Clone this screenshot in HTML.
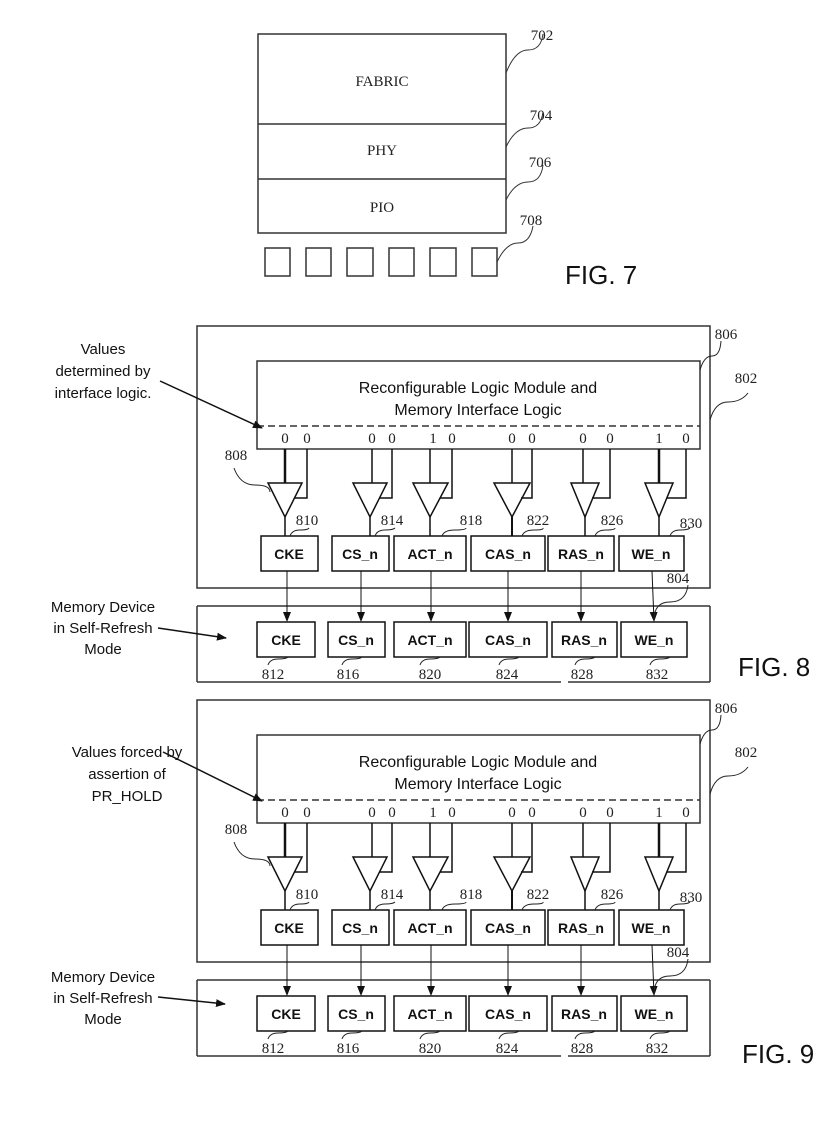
<!DOCTYPE html>
<html><head><meta charset="utf-8"><style>
html,body{margin:0;padding:0;background:#fff;}
svg{display:block;}
.t{font-family:"Liberation Serif",serif;font-size:15px;fill:#222;}
.a{font-family:"Liberation Sans",sans-serif;fill:#111;}
.b{font-family:"Liberation Sans",sans-serif;font-weight:bold;font-size:14px;fill:#111;}
</style></head><body>
<svg width="840" height="1123" viewBox="0 0 840 1123" xmlns="http://www.w3.org/2000/svg">
<defs>
<marker id="ar" markerWidth="10" markerHeight="10" refX="9" refY="5" orient="auto" markerUnits="userSpaceOnUse">
<path d="M0,1 L10,5 L0,9 z" fill="#111"/></marker>
</defs>
<!-- FIG 7 -->
<g stroke="#333" stroke-width="1.5" fill="none">
<rect x="258" y="34" width="248" height="199"/>
<line x1="258" y1="124" x2="506" y2="124"/>
<line x1="258" y1="179" x2="506" y2="179"/>
<rect x="265" y="248" width="25" height="28"/>
<rect x="306" y="248" width="25" height="28"/>
<rect x="347" y="248" width="26" height="28"/>
<rect x="389" y="248" width="25" height="28"/>
<rect x="430" y="248" width="26" height="28"/>
<rect x="472" y="248" width="25" height="28"/>
<path d="M506,73 Q515,50 528,50 T543,34" stroke-width="1"/>
<path d="M506,147 Q515,128 528,128 T543,112" stroke-width="1"/>
<path d="M506,200 Q515,182 528,182 T543,165" stroke-width="1"/>
<path d="M497,262 Q506,243 518,243 T533,226" stroke-width="1"/>
</g>
<text class="t" x="382" y="86" text-anchor="middle" font-size="17">FABRIC</text>
<text class="t" x="382" y="155" text-anchor="middle" font-size="17">PHY</text>
<text class="t" x="382" y="212" text-anchor="middle" font-size="17">PIO</text>
<text class="t" x="542" y="40" text-anchor="middle">702</text>
<text class="t" x="541" y="120" text-anchor="middle">704</text>
<text class="t" x="540" y="167" text-anchor="middle">706</text>
<text class="t" x="531" y="225" text-anchor="middle">708</text>
<text class="a" x="565" y="284" font-size="26">FIG. 7</text>

<!-- FIG 8 -->
<g id="f8">
<g stroke="#333" fill="none" stroke-width="1.5">
<rect x="197" y="326" width="513" height="262"/>
<rect x="257" y="361" width="443" height="88"/>
<line x1="257" y1="426" x2="700" y2="426" stroke-dasharray="7,4"/>
<line x1="197" y1="606" x2="710" y2="606"/>
<line x1="197" y1="606" x2="197" y2="682"/>
<line x1="710" y1="606" x2="710" y2="682"/>
<line x1="197" y1="682" x2="561" y2="682"/>
<line x1="568" y1="682" x2="710" y2="682"/>
<!-- channels -->
<g stroke="#111">
<line x1="285" y1="449" x2="285" y2="483" stroke-width="2.5"/>
<polyline points="307,449 307,498 294,498"/>
<polygon points="268,483 302,483 285,517"/>
<line x1="285" y1="517" x2="285" y2="536"/>
<rect x="261" y="536" width="57" height="35"/>
<line x1="287" y1="571" x2="287" y2="621" stroke-width="1" marker-end="url(#ar)"/>
<rect x="257" y="622" width="58" height="35"/>
<line x1="372" y1="449" x2="372" y2="483" stroke-width="1.5"/>
<polyline points="392,449 392,498 379,498"/>
<polygon points="353,483 387,483 370,517"/>
<line x1="370" y1="517" x2="370" y2="536"/>
<rect x="332" y="536" width="57" height="35"/>
<line x1="361" y1="571" x2="361" y2="621" stroke-width="1" marker-end="url(#ar)"/>
<rect x="328" y="622" width="57" height="35"/>
<line x1="430" y1="449" x2="430" y2="483" stroke-width="1.5"/>
<polyline points="452,449 452,498 440,498"/>
<polygon points="413,483 448,483 430,517"/>
<line x1="430" y1="517" x2="430" y2="536"/>
<rect x="394" y="536" width="72" height="35"/>
<line x1="431" y1="571" x2="431" y2="621" stroke-width="1" marker-end="url(#ar)"/>
<rect x="394" y="622" width="72" height="35"/>
<line x1="512" y1="449" x2="512" y2="483" stroke-width="1.5"/>
<polyline points="532,449 532,498 521,498"/>
<polygon points="494,483 530,483 512,517"/>
<line x1="512" y1="517" x2="512" y2="536" stroke-width="2"/>
<rect x="471" y="536" width="74" height="35"/>
<line x1="508" y1="571" x2="508" y2="621" stroke-width="1" marker-end="url(#ar)"/>
<rect x="469" y="622" width="78" height="35"/>
<line x1="583" y1="449" x2="583" y2="483" stroke-width="1.5"/>
<polyline points="610,449 610,498 592,498"/>
<polygon points="571,483 599,483 585,517"/>
<line x1="585" y1="517" x2="585" y2="536"/>
<rect x="548" y="536" width="66" height="35"/>
<line x1="581" y1="571" x2="581" y2="621" stroke-width="1" marker-end="url(#ar)"/>
<rect x="552" y="622" width="65" height="35"/>
<line x1="659" y1="449" x2="659" y2="483" stroke-width="2.5"/>
<polyline points="686,449 686,498 667,498"/>
<polygon points="645,483 673,483 659,517"/>
<line x1="659" y1="517" x2="659" y2="536"/>
<rect x="619" y="536" width="65" height="35"/>
<line x1="652" y1="571" x2="654" y2="621" stroke-width="1" marker-end="url(#ar)"/>
<rect x="621" y="622" width="66" height="35"/>
</g>
<g stroke-width="1" stroke="#222">
<path d="M700,370 Q704,356 712,356 T721,341"/>
<path d="M710,420 Q715,402 728,402 T748,393"/>
<path d="M234,468 Q240,485 255,485 T270,492"/>
<path d="M688,585 Q686,602 670,602 T654,620"/>
<path d="M290,536 Q292,530 300,530 T309,528"/>
<path d="M375,536 Q377,530 385,530 T395,528"/>
<path d="M442,536 Q444,530 455,530 T466,528"/>
<path d="M522,536 Q524,530 534,530 T543,528"/>
<path d="M595,536 Q597,530 606,530 T615,528"/>
<path d="M670,536 Q672,530 680,530 T690,528"/>
<path d="M268,665 Q270,659 278,659 T288,657"/>
<path d="M342,665 Q344,659 352,659 T362,657"/>
<path d="M420,665 Q422,659 430,659 T440,657"/>
<path d="M499,665 Q501,659 509,659 T519,657"/>
<path d="M575,665 Q577,659 585,659 T595,657"/>
<path d="M650,665 Q652,659 660,659 T670,657"/>
</g>
</g>
<text class="a" x="478" y="393" text-anchor="middle" font-size="16">Reconfigurable Logic Module and</text>
<text class="a" x="478" y="415" text-anchor="middle" font-size="16">Memory Interface Logic</text>
<g class="t" text-anchor="middle">
<text x="285" y="443">0</text><text x="307" y="443">0</text>
<text x="372" y="443">0</text><text x="392" y="443">0</text>
<text x="433" y="443">1</text><text x="452" y="443">0</text>
<text x="512" y="443">0</text><text x="532" y="443">0</text>
<text x="583" y="443">0</text><text x="610" y="443">0</text>
<text x="659" y="443">1</text><text x="686" y="443">0</text>
<text x="236" y="460">808</text>
<text x="307" y="525">810</text><text x="392" y="525">814</text>
<text x="471" y="525">818</text><text x="538" y="525">822</text>
<text x="612" y="525">826</text><text x="691" y="528">830</text>
<text x="678" y="583">804</text>
<text x="726" y="339">806</text>
<text x="746" y="383">802</text>
<text x="273" y="679">812</text><text x="348" y="679">816</text>
<text x="430" y="679">820</text><text x="507" y="679">824</text>
<text x="582" y="679">828</text><text x="657" y="679">832</text>
</g>
<g class="b" text-anchor="middle">
<text x="289" y="559">CKE</text><text x="360" y="559">CS_n</text>
<text x="430" y="559">ACT_n</text><text x="508" y="559">CAS_n</text>
<text x="581" y="559">RAS_n</text><text x="651" y="559">WE_n</text>
<text x="286" y="645">CKE</text><text x="356" y="645">CS_n</text>
<text x="430" y="645">ACT_n</text><text x="508" y="645">CAS_n</text>
<text x="584" y="645">RAS_n</text><text x="654" y="645">WE_n</text>
</g>
</g>
<text class="a" x="103" y="354" text-anchor="middle" font-size="15">Values</text>
<text class="a" x="103" y="376" text-anchor="middle" font-size="15">determined by</text>
<text class="a" x="103" y="398" text-anchor="middle" font-size="15">interface logic.</text>
<line x1="160" y1="381" x2="262" y2="428" stroke="#111" stroke-width="1.5" marker-end="url(#ar)"/>
<text class="a" x="103" y="612" text-anchor="middle" font-size="15">Memory Device</text>
<text class="a" x="103" y="633" text-anchor="middle" font-size="15">in Self-Refresh</text>
<text class="a" x="103" y="654" text-anchor="middle" font-size="15">Mode</text>
<line x1="158" y1="628" x2="226" y2="638" stroke="#111" stroke-width="1.5" marker-end="url(#ar)"/>
<text class="a" x="738" y="676" font-size="26">FIG. 8</text>

<!-- FIG 9 -->
<use href="#f8" transform="translate(0,374)"/>
<text class="a" x="127" y="757" text-anchor="middle" font-size="15">Values forced by</text>
<text class="a" x="127" y="779" text-anchor="middle" font-size="15">assertion of</text>
<text class="a" x="127" y="801" text-anchor="middle" font-size="15">PR_HOLD</text>
<line x1="163" y1="752" x2="262" y2="801" stroke="#111" stroke-width="1.5" marker-end="url(#ar)"/>
<text class="a" x="103" y="982" text-anchor="middle" font-size="15">Memory Device</text>
<text class="a" x="103" y="1003" text-anchor="middle" font-size="15">in Self-Refresh</text>
<text class="a" x="103" y="1024" text-anchor="middle" font-size="15">Mode</text>
<line x1="158" y1="997" x2="225" y2="1004" stroke="#111" stroke-width="1.5" marker-end="url(#ar)"/>
<text class="a" x="742" y="1063" font-size="26">FIG. 9</text>
</svg>
</body></html>
